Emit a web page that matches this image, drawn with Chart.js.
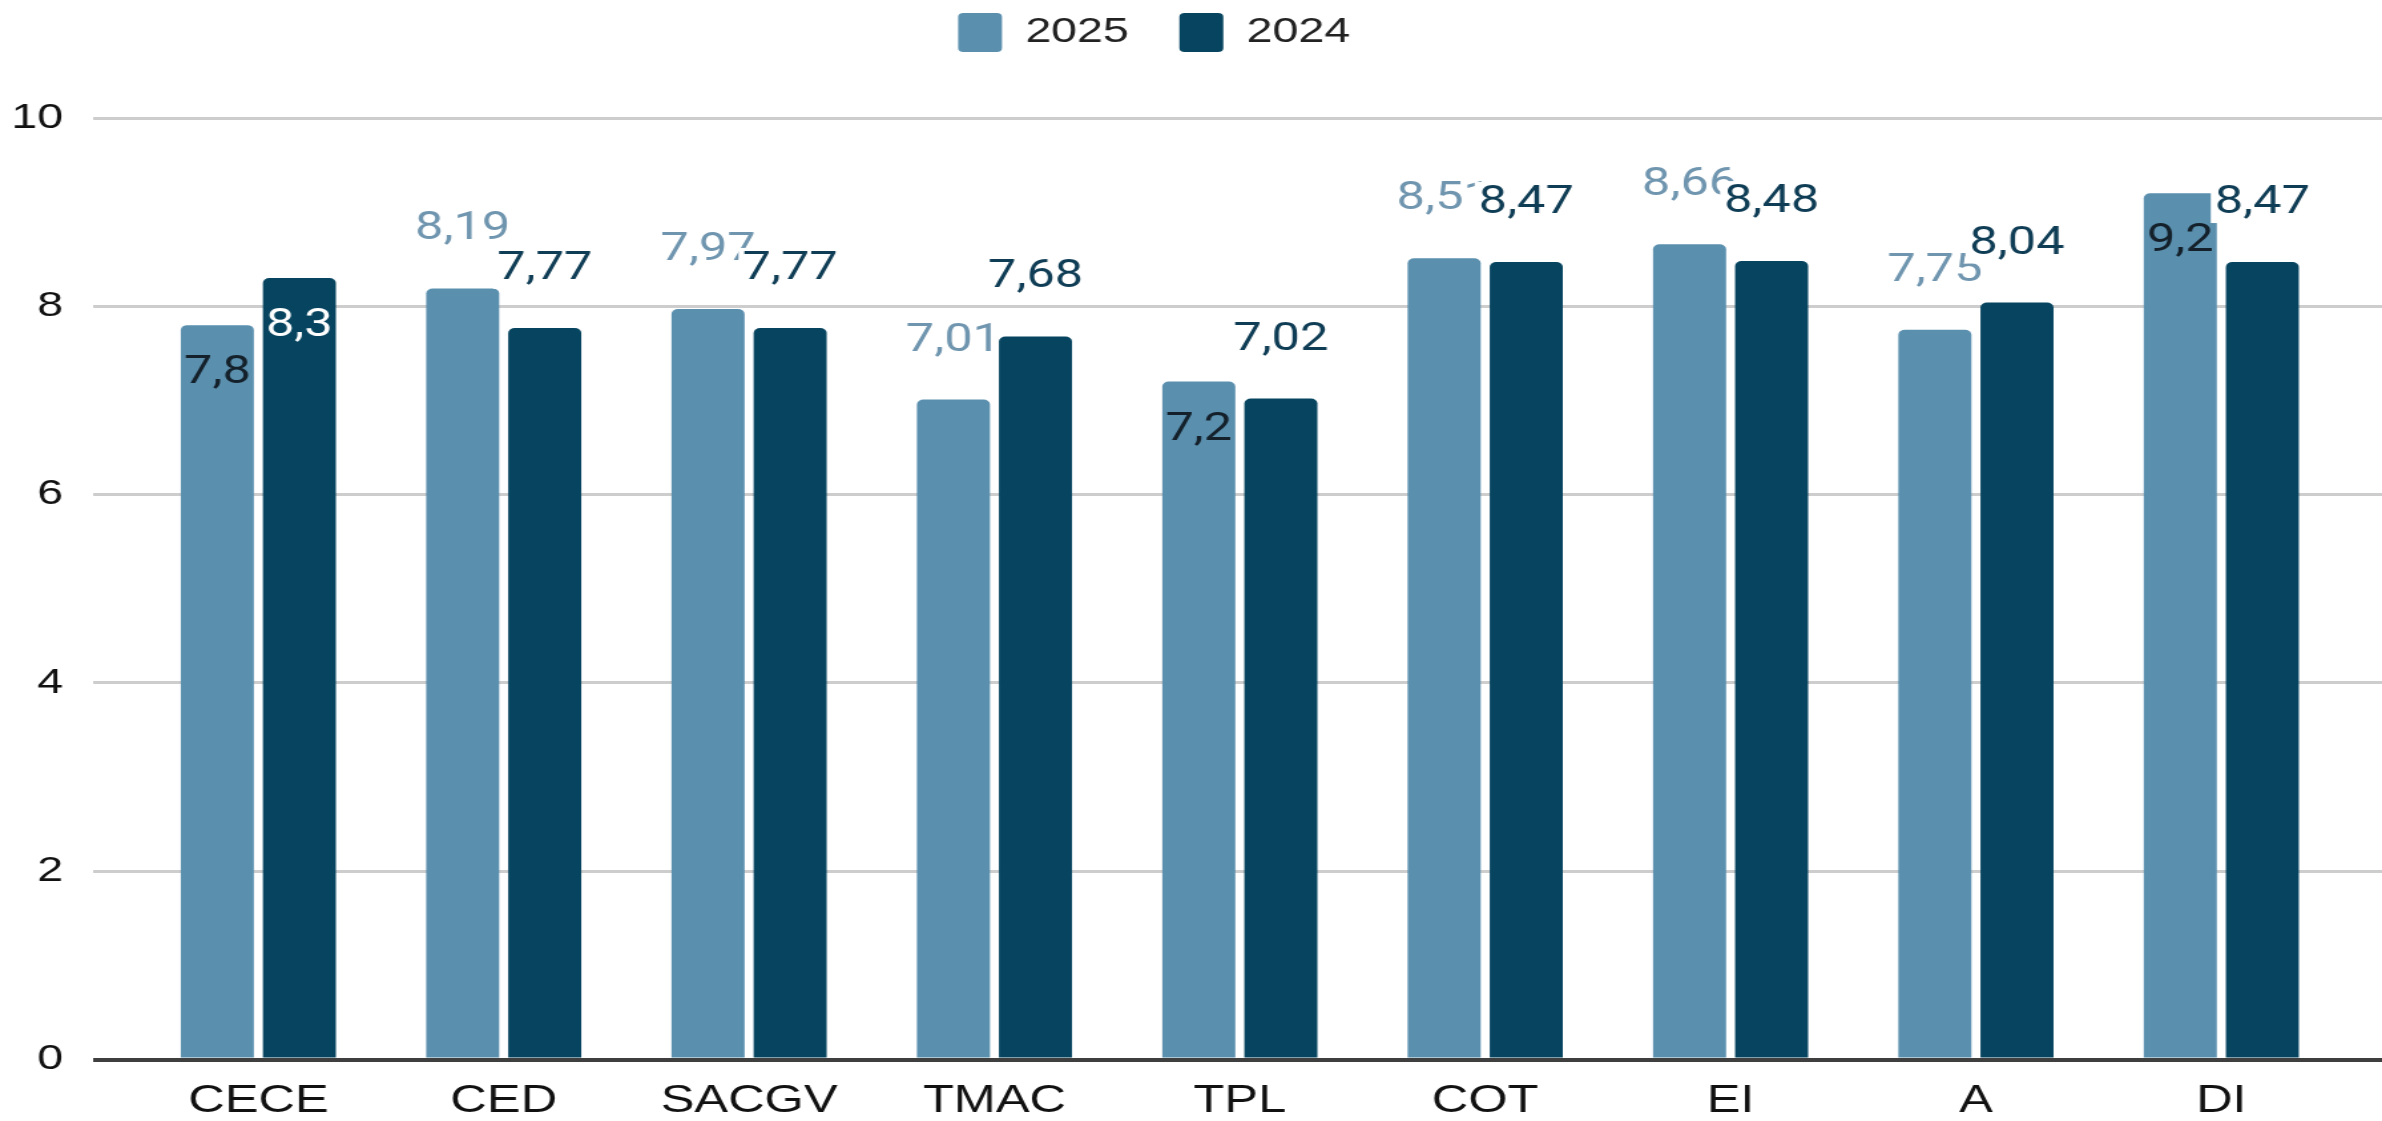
<!DOCTYPE html>
<html>
<head>
<meta charset="utf-8">
<script src="https://cdn.jsdelivr.net/npm/chart.js@4.4.1/dist/chart.umd.min.js"></script>
<style>
  html, body { margin: 0; padding: 0; background: #ffffff; overflow: hidden; }
  #wrap { position: absolute; left: 0; top: 0; width: 1791px; height: 1121px;
          transform: scaleX(1.33); transform-origin: 0 0; }
  canvas { display: block; }
</style>
</head>
<body>
<div id="wrap"><canvas id="c" width="1791" height="1121"></canvas></div>
<script>
// ---- data ----
const categories = ['CECE', 'CED', 'SACGV', 'TMAC', 'TPL', 'COT', 'EI', 'A', 'DI'];
const seriesNames = ['2025', '2024'];
const values2025 = [7.8, 8.19, 7.97, 7.01, 7.2, 8.51, 8.66, 7.75, 9.2];
const values2024 = [8.3, 7.77, 7.77, 7.68, 7.02, 8.47, 8.48, 8.04, 8.47];
const yTickValues = [0, 2, 4, 6, 8, 10];
// categories whose value label sits inside the bar, per series
const insideLabelCats = { '2025': ['CECE', 'TPL', 'DI'], '2024': ['CECE'] };

const fmt = v => String(v).replace('.', ',');

const gridColor = c => (c.tick && c.tick.value === 0) ? '#3f3f3f' : '#cdcdcd';
const gridWidth = c => (c.tick && c.tick.value === 0) ? 4 : 3;

const valueLabels = {
  id: 'valueLabels',
  afterDatasetsDraw(chart) {
    const ctx = chart.ctx;
    ctx.save();
    ctx.font = '400 38px Roboto';
    ctx.textAlign = 'center';
    ctx.textBaseline = 'alphabetic';
    chart.data.datasets.forEach((ds, di) => {
      const meta = chart.getDatasetMeta(di);
      meta.data.forEach((bar, i) => {
        const txt = fmt(ds.data[i]);
        const inside = insideLabelCats[ds.label].includes(categories[i]);
        const w = ctx.measureText(txt).width;
        if (inside) {
          ctx.fillStyle = di === 0 ? '#14202a' : '#ffffff';
          ctx.fillText(txt, bar.x, bar.y + 58);
        } else {
          const by = bar.y - 49;
          if (di === 1) {
            ctx.fillStyle = '#ffffff';
            ctx.fillRect(bar.x - w / 2 - 3, by - 31, w + 6, 41);
          }
          ctx.fillStyle = di === 0 ? '#6f95af' : '#0f3d55';
          ctx.fillText(txt, bar.x, by);
        }
      });
    });
    ctx.restore();
  }
};

const layoutTweaks = {
  id: 'layoutTweaks',
  beforeLayout(chart) {
    const lg = chart.legend;
    if (lg && !lg._patched) {
      const origFit = lg.fit;
      lg.fit = function () { origFit.call(this); this.height = 118; };
      lg._patched = true;
    }
  },
  afterLayout(chart) {
    const lg = chart.legend;
    if (lg) { lg.top -= 25; lg.bottom -= 25; lg.left -= 32; lg.right -= 32; }
  }
};

function make() {
  new Chart(document.getElementById('c'), {
    type: 'bar',
    data: {
      labels: categories,
      datasets: [
        { label: seriesNames[0], data: values2025, backgroundColor: '#5a8fae', borderWidth: 0,
          borderRadius: { topLeft: 5, topRight: 5, bottomLeft: 0, bottomRight: 0 },
          categoryPercentage: 0.669, barPercentage: 0.89 },
        { label: seriesNames[1], data: values2024, backgroundColor: '#06445f', borderWidth: 0,
          borderRadius: { topLeft: 5, topRight: 5, bottomLeft: 0, bottomRight: 0 },
          categoryPercentage: 0.669, barPercentage: 0.89 }
      ]
    },
    options: {
      responsive: false,
      animation: false,
      devicePixelRatio: 1,
      layout: { padding: { left: 8.5, right: 0, top: 0, bottom: 0 } },
      plugins: {
        legend: {
          position: 'top', align: 'center',
          labels: { boxWidth: 33, boxHeight: 39, padding: 38, useBorderRadius: true, borderRadius: 4,
                    color: '#222222', font: { family: 'Liberation Sans', size: 35 } }
        },
        tooltip: { enabled: false }
      },
      scales: {
        x: {
          grid: { display: false, drawTicks: false, tickLength: 0 },
          border: { display: false },
          afterFit: s => { s.height = 61.5; s.paddingLeft = 0; s.paddingRight = 0; },
          ticks: { color: '#111111', padding: 23.5, font: { family: 'Liberation Sans', size: 38, lineHeight: 1 } }
        },
        y: {
          min: 0, max: 10,
          afterBuildTicks: s => { s.ticks = yTickValues.map(v => ({ value: v })); },
          afterFit: s => { s.width = 93.5; },
          ticks: { padding: 22.6, color: '#111111', font: { family: 'Liberation Sans', size: 35 } },
          border: { display: false },
          grid: { color: gridColor, lineWidth: gridWidth, drawTicks: true, tickLength: 32 }
        },
        y2: {
          position: 'right', min: 0, max: 10,
          afterBuildTicks: s => { s.ticks = yTickValues.map(v => ({ value: v })); },
          ticks: { display: false },
          border: { display: false },
          grid: { drawOnChartArea: false, drawTicks: true, tickLength: 28.6, color: gridColor, lineWidth: gridWidth }
        }
      }
    },
    plugins: [layoutTweaks, valueLabels]
  });
}

Promise.all([
  document.fonts.load('400 38px Roboto'),
  document.fonts.load('35px "Liberation Sans"')
]).then(make, make);
</script>
</body>
</html>
